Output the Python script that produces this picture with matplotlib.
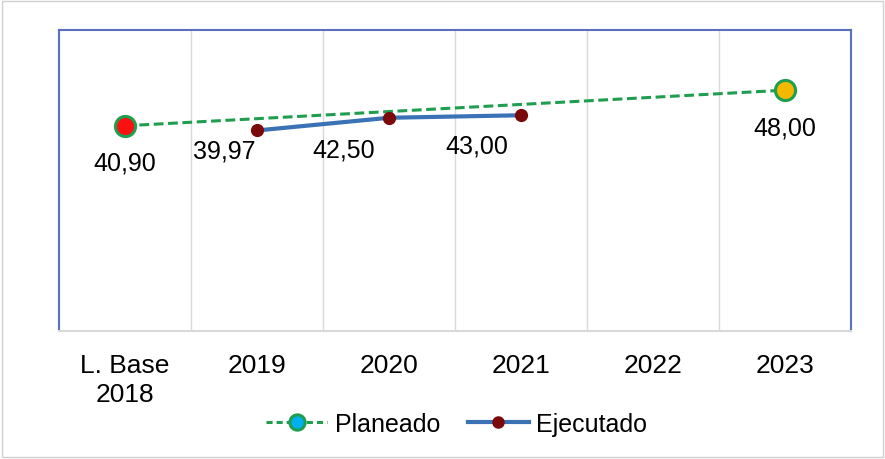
import numpy as np
import matplotlib.pyplot as plt
from matplotlib.lines import Line2D
from matplotlib.patches import Rectangle

plt.rcParams["font.family"] = ["Liberation Sans", "DejaVu Sans"]

categorias = ["L. Base\n2018", "2019", "2020", "2021", "2022", "2023"]
planeado_x = [0, 5]
planeado_y = [40.90, 48.00]
ejecutado_x = [1, 2, 3]
ejecutado_y = [39.97, 42.50, 43.00]

verde = "#1E9E4E"
azul = "#3A72B5"
granate = "#7A0A0A"

fig = plt.figure(figsize=(8.85, 4.6), dpi=100)
ax = fig.add_axes([0.0667, 0.278, 0.8949, 0.6548])

ax.plot(planeado_x, planeado_y, color=verde, lw=2.2, ls=(0, (3.2, 1.5)), zorder=3)
ax.scatter([planeado_x[0]], [planeado_y[0]], s=210, c="#FF1010", edgecolors=verde,
           linewidths=2.2, zorder=4)
ax.scatter([planeado_x[1]], [planeado_y[1]], s=210, c="#F5B800", edgecolors=verde,
           linewidths=2.2, zorder=4)
ax.plot(ejecutado_x, ejecutado_y, color=azul, lw=3, marker="o", ms=8.5,
        mfc=granate, mec=granate, zorder=5)

# etiquetas (desplazamiento en pixeles, como en el original)
off_plan = [(0, -37), (0, -37)]
off_ejec = [(-33, -20), (-45, -32), (-44, -30)]
for x, y, o in zip(planeado_x, planeado_y, off_plan):
    ax.annotate(f"{y:.2f}".replace(".", ","), (x, y), xytext=o,
                textcoords="offset pixels", ha="center", va="center", fontsize=18)
for x, y, o in zip(ejecutado_x, ejecutado_y, off_ejec):
    ax.annotate(f"{y:.2f}".replace(".", ","), (x, y), xytext=o,
                textcoords="offset pixels", ha="center", va="center", fontsize=18)

ax.set_xlim(-0.5, 5.5)
ax.set_ylim(0, 60)
ax.set_xticks(range(len(categorias)))
ax.set_xticklabels(categorias, fontsize=19, linespacing=1.25)
ax.set_xticks(np.arange(0.5, 5.5, 1), minor=True)
ax.tick_params(axis="x", which="both", length=0, pad=16)
ax.set_yticks([])
ax.grid(axis="x", which="minor", color="#D9D9D9", lw=1)
for s in ["left", "top", "right"]:
    ax.spines[s].set_color("#5B6FC0")
    ax.spines[s].set_linewidth(1.5)
ax.spines["bottom"].set_color("#D9D9D9")
ax.spines["bottom"].set_linewidth(1.5)

h_plan = Line2D([], [], color=verde, lw=2.2, ls=(0, (2, 1.3)), marker="o", ms=11,
                mfc="#00B0F0", mec=verde, mew=2.2)
h_ejec = Line2D([], [], color=azul, lw=3, marker="o", ms=8, mfc=granate, mec=granate)
fig.legend([h_plan, h_ejec], ["Planeado", "Ejecutado"], loc="center",
           bbox_to_anchor=(0.516, 0.076), ncol=2, frameon=False, fontsize=18,
           handlelength=2.45, handletextpad=0.3, columnspacing=1.1)

fig.patches.append(Rectangle((0.002, 0.004), 0.996, 0.992, transform=fig.transFigure,
                             fill=False, edgecolor="#D0D0D0", lw=1))

fig.savefig("out.png", dpi=100)
